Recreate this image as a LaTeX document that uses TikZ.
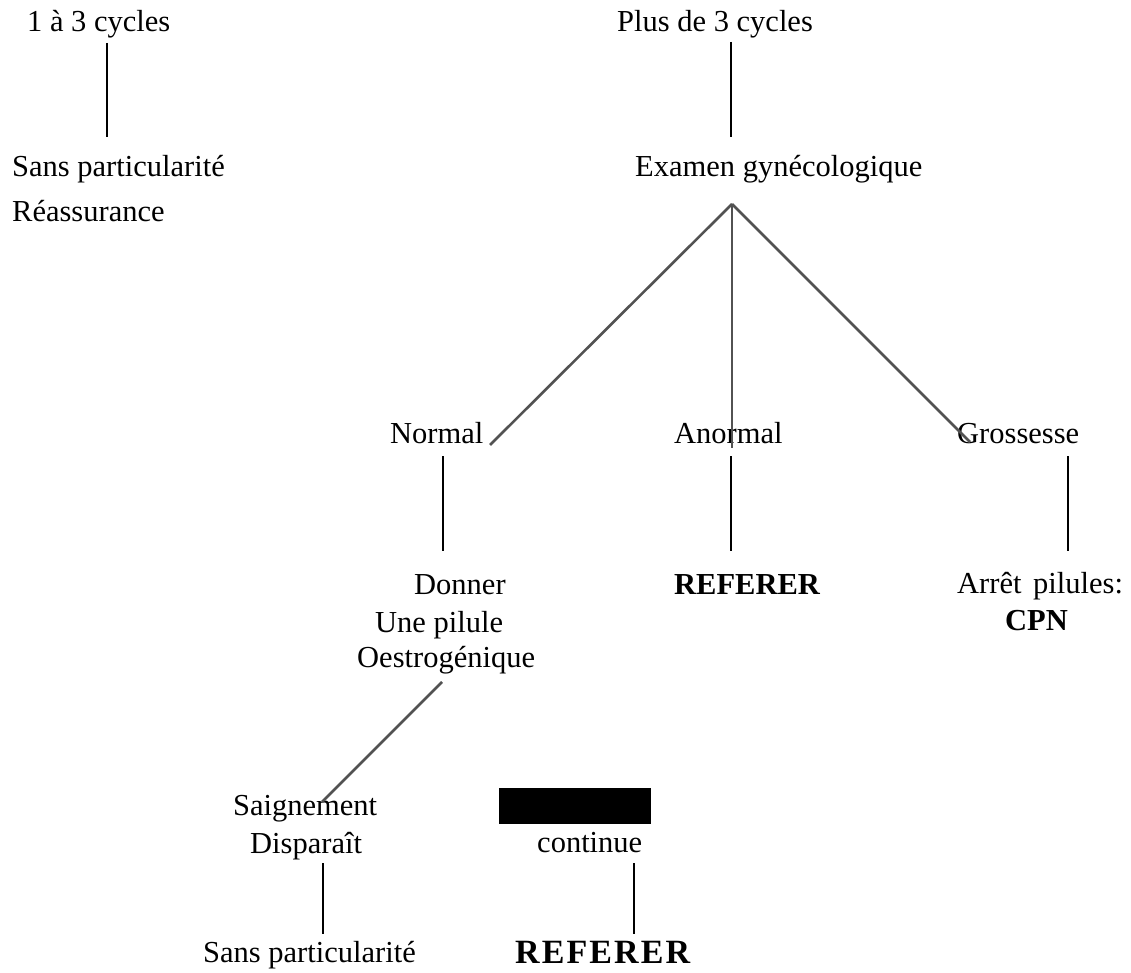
\documentclass[tikz,border=0pt]{standalone}
\usepackage{fontspec}
\setmainfont{Liberation Serif}
\begin{document}
\begin{tikzpicture}[x=1pt,y=-1pt,
  txt/.style={anchor=base west, inner sep=0pt, font=\fontsize{30.5}{36}\selectfont},
  bf/.style={anchor=base west, inner sep=0pt, font=\fontsize{30.5}{36}\selectfont\bfseries},
  stem/.style={line width=2pt, black},
  branch/.style={line width=2.6pt, black!68}]
% page
\fill[white] (0,0) rectangle (1131,973);
\useasboundingbox (0,0) rectangle (1131,973);

% left column
\node[txt] (c13) at (27,32) {1 à 3 cycles};
\node[txt] (sp1) at (12,177) {Sans particularité};
\node[txt] (rea) at (12,222) {Réassurance};

% main column
\node[txt] (p3)  at (617,32)  {Plus de 3 cycles};
\node[txt] (exa) at (635,177) {Examen gynécologique};
\node[txt] (nor) at (390,443) {Normal};
\node[txt] (ano) at (674,443) {Anormal};
\node[txt] (gro) at (957,443) {Grossesse};

\node[txt] (don) at (414,594) {Donner};
\node[txt] (upi) at (375,632) {Une pilule};
\node[txt] (oes) at (357,667) {Oestrogénique};
\node[bf]  (ref1) at (674,594) {REFERER};
\node[txt] (arr) at (957,593) {Arrêt\hspace{4pt} pilules:};
\node[bf]  (cpn) at (1005,630) {CPN};

\node[txt] (sai) at (233,815) {Saignement};
\node[txt] (dis) at (250,853) {Disparaît};
\node[fill=black, inner sep=0pt, minimum width=152pt, minimum height=36pt,
      anchor=north west] (bar) at (499,788) {};
\node[txt] (con) at (537,852) {continue};
\node[txt] (sp2) at (203,962) {Sans particularité};
\node[anchor=base west, inner sep=0pt, font=\fontsize{34}{40}\selectfont\bfseries]
  (ref2) at (515,963) {\makebox[175pt][s]{R\hfil E\hfil F\hfil E\hfil R\hfil E\hfil R}};

% connector ends
\coordinate (k1t) at (107,43);   \coordinate (k1b) at (107,137);
\coordinate (k2t) at (731,42);   \coordinate (k2b) at (731,137);
\coordinate (apex) at (732,204);
\coordinate (bn) at (490,445);
\coordinate (ba) at (732,448);
\coordinate (bg) at (970,442);
\coordinate (k3t) at (443,456);  \coordinate (k3b) at (443,551);
\coordinate (k4t) at (731,456);  \coordinate (k4b) at (731,551);
\coordinate (k5t) at (1068,456); \coordinate (k5b) at (1068,551);
\coordinate (d1) at (442,682);   \coordinate (d2) at (322,802);
\coordinate (k6t) at (323,863);  \coordinate (k6b) at (323,934);
\coordinate (k7t) at (634,863);  \coordinate (k7b) at (634,934);

% connectors
\draw[stem] (k1t) -- (k1b);
\draw[stem] (k2t) -- (k2b);
\draw[branch] (apex) -- (bn);
\draw[branch] (apex) -- (ba);
\draw[branch] (apex) -- (bg);
\draw[stem] (k3t) -- (k3b);
\draw[stem] (k4t) -- (k4b);
\draw[stem] (k5t) -- (k5b);
\draw[branch] (d1) -- (d2);
\draw[stem] (k6t) -- (k6b);
\draw[stem] (k7t) -- (k7b);
\end{tikzpicture}
\end{document}
